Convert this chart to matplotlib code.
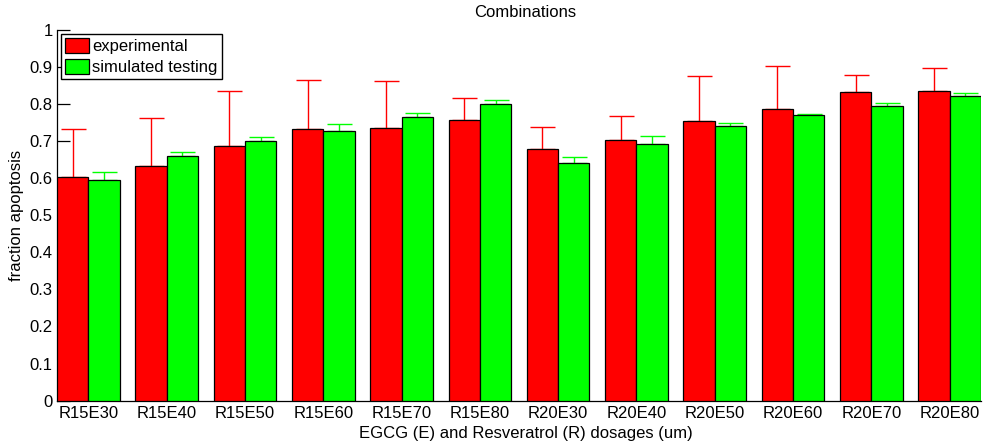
import matplotlib
matplotlib.use("Agg")
import matplotlib.pyplot as plt
import numpy as np

plt.rcParams['font.family'] = ['Liberation Sans', 'DejaVu Sans']

categories = ["R15E30", "R15E40", "R15E50", "R15E60", "R15E70", "R15E80",
              "R20E30", "R20E40", "R20E50", "R20E60", "R20E70", "R20E80"]
experimental = [0.602, 0.632, 0.686, 0.733, 0.736, 0.757,
                0.677, 0.703, 0.754, 0.785, 0.832, 0.835]
experimental_err = [0.129, 0.129, 0.149, 0.132, 0.125, 0.059,
                    0.061, 0.064, 0.120, 0.118, 0.046, 0.062]
simulated = [0.594, 0.660, 0.699, 0.728, 0.765, 0.799,
             0.641, 0.692, 0.740, 0.769, 0.794, 0.822]
simulated_err = [0.021, 0.011, 0.012, 0.018, 0.010, 0.010,
                 0.015, 0.021, 0.009, 0.004, 0.009, 0.007]
yticks = [0, 0.1, 0.2, 0.3, 0.4, 0.5, 0.6, 0.7, 0.8, 0.9, 1]
ytick_labels = ["0", "0.1", "0.2", "0.3", "0.4", "0.5", "0.6", "0.7", "0.8", "0.9", "1"]

W, H = 990, 442
fig = plt.figure(figsize=(W / 100, H / 100), dpi=100)
left, right, top, bottom = 57, 981, 29.6, 400.6
ax = fig.add_axes([left / W, 1 - bottom / H, (right - left) / W, (bottom - top) / H])

x = np.arange(len(categories))
bw = 0.4
red = "#ff0000"
green = "#00ff00"
fs = 12

ax.bar(x - bw / 2, experimental, width=bw, color=red, edgecolor="black",
       linewidth=0.9, zorder=3, label="experimental")
ax.bar(x + bw / 2, simulated, width=bw, color=green, edgecolor="black",
       linewidth=0.9, zorder=3, label="simulated testing")

zeros = np.zeros(len(categories))
ax.errorbar(x - bw / 2, experimental, yerr=[zeros, experimental_err], fmt="none",
            ecolor=red, elinewidth=1.0, capsize=9, capthick=1.0, zorder=2)
ax.errorbar(x + bw / 2, simulated, yerr=[zeros, simulated_err], fmt="none",
            ecolor=green, elinewidth=1.0, capsize=9, capthick=1.0, zorder=2)

ax.set_xlim(-0.4, len(categories) - 1 + 0.4)
ax.set_ylim(0, 1)
ax.set_yticks(yticks)
ax.set_yticklabels(ytick_labels)
ax.set_xticks(x)
ax.set_xticklabels(categories)

ax.spines['top'].set_visible(False)
ax.spines['right'].set_visible(False)
ax.spines['left'].set_linewidth(0.9)
ax.spines['bottom'].set_linewidth(0.9)
ax.tick_params(axis='y', direction='in', length=9, width=0.9, pad=3, labelsize=fs)
ax.tick_params(axis='x', length=0, pad=4, labelsize=fs)

ax.set_title("Combinations", fontsize=fs, x=0.507, pad=9)
ax.set_xlabel("EGCG (E) and Resveratrol (R) dosages (um)", fontsize=fs)
ax.xaxis.set_label_coords(0.507, -0.068)
ax.set_ylabel("fraction apoptosis", fontsize=fs)
ax.yaxis.set_label_coords(-0.036, 0.5)

leg = ax.legend(loc="upper left", bbox_to_anchor=(0.004, 0.988), borderaxespad=0,
                fontsize=fs, fancybox=False, frameon=True, framealpha=1,
                edgecolor="black", handlelength=1.45, handleheight=1.0,
                handletextpad=0.2, borderpad=0.25, labelspacing=0.28)
leg.get_frame().set_linewidth(1.0)

fig.savefig("out.png", dpi=100)
